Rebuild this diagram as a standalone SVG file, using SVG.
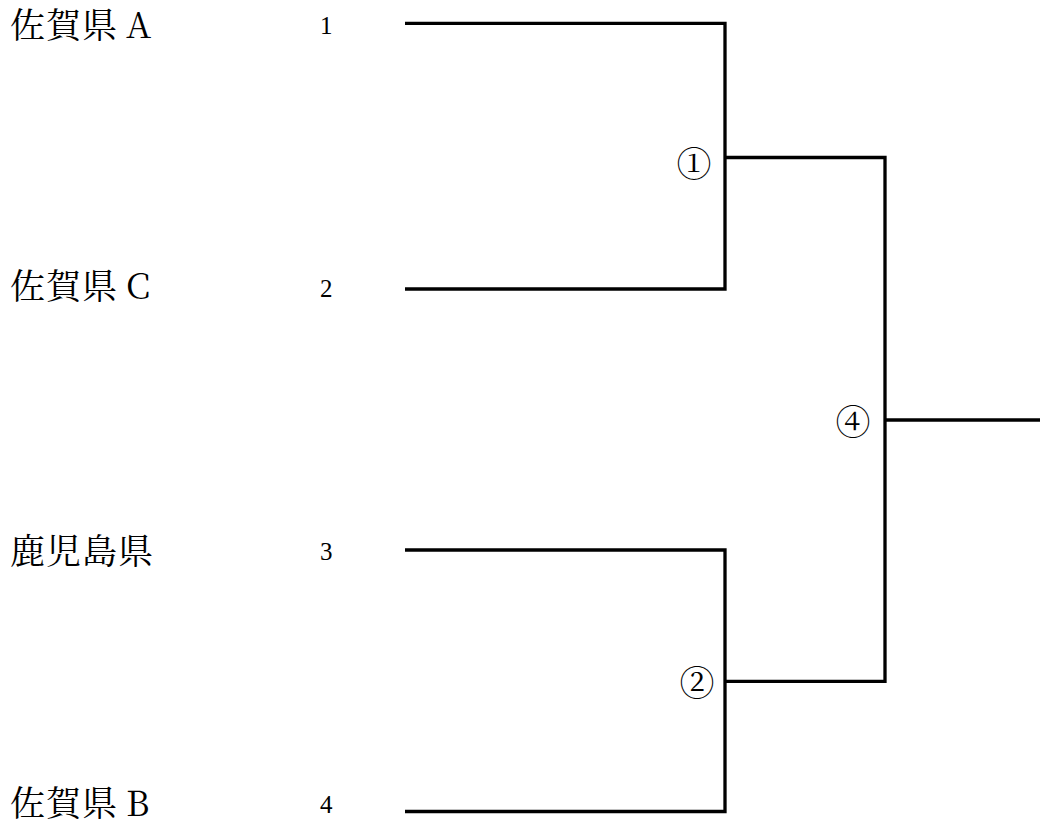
<svg xmlns="http://www.w3.org/2000/svg" width="1040" height="834" viewBox="0 0 1040 834">
<style>
.bg{fill:#fff}
.team{font-family:"Noto Serif CJK JP","Liberation Serif","Noto Sans CJK JP",serif;font-size:35px;letter-spacing:1px;fill:#000}
.lat{font-size:35px}
.seed{font-family:"Liberation Serif","Noto Sans CJK JP",serif;font-size:25px;fill:#000}
.match{font-family:"Noto Serif CJK JP","Noto Sans CJK JP","DejaVu Sans",sans-serif;font-size:35px;fill:#000;text-anchor:middle}
.wire{fill:none;stroke:#000;stroke-width:3.3;stroke-linejoin:miter;stroke-linecap:butt}
</style>
<rect class="bg" x="0" y="0" width="1040" height="834"/>
<g id="connectors">
<path class="wire" d="M405,23.3 H725 V289 H405"/>
<path class="wire" d="M725,157.5 H885 V681.3 H725"/>
<path class="wire" d="M405,550 H725 V811.5 H405"/>
<path class="wire" d="M885,420 H1040"/>
</g>
<g id="team-1"><text class="team" x="10" y="38">佐賀県<tspan class="lat" dx="8">A</tspan></text><text class="seed" x="320" y="34">1</text></g>
<g id="team-2"><text class="team" x="10" y="299">佐賀県<tspan class="lat" dx="8">C</tspan></text><text class="seed" x="320" y="297">2</text></g>
<g id="team-3"><text class="team" x="10" y="564">鹿児島県</text><text class="seed" x="320" y="560">3</text></g>
<g id="team-4"><text class="team" x="10" y="816">佐賀県<tspan class="lat" dx="8">B</tspan></text><text class="seed" x="320" y="813">4</text></g>
<g id="match-1"><text class="match" x="694" y="177">①</text></g>
<g id="match-2"><text class="match" x="697" y="696">②</text></g>
<g id="match-4"><text class="match" x="853" y="435">④</text></g>
</svg>
